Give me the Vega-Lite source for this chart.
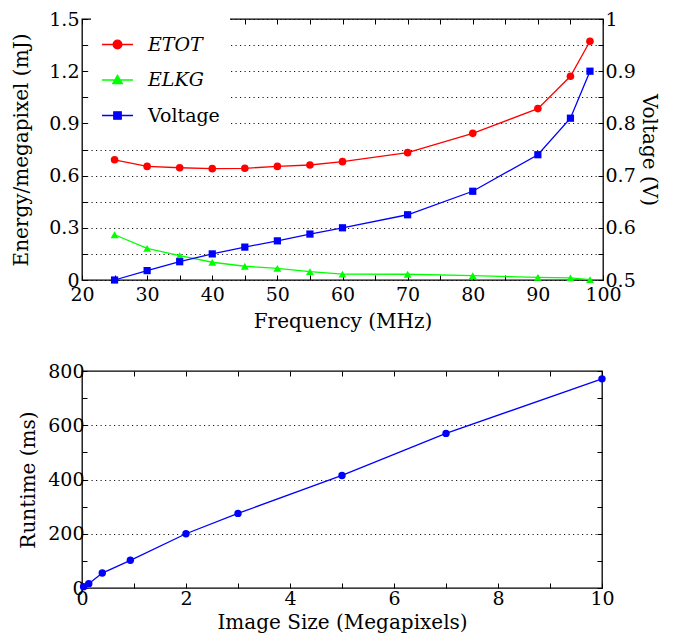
{
  "$schema": "https://vega.github.io/schema/vega-lite/v6.json",
  "padding": {"left": 11, "top": 9, "right": 0, "bottom": 0},
  "background": "white",
  "spacing": 29,
  "config": {
    "view": {"stroke": "black", "strokeWidth": 1.3},
    "axis": {
      "labelFont": "DejaVu Serif",
      "titleFont": "DejaVu Serif",
      "labelFontSize": 19,
      "titleFontSize": 20,
      "titleFontWeight": "normal",
      "labelColor": "black",
      "titleColor": "black",
      "domain": false,
      "ticks": true,
      "tickColor": "black",
      "tickSize": -5,
      "tickWidth": 1,
      "grid": false,
      "gridColor": "#000000",
      "gridDash": [1.2, 3.3],
      "gridWidth": 0.9,
      "labelFlush": false,
      "labelOverlap": false
    }
  },
  "datasets": {
    "freq": [
      {"f": 25, "series": "E_TOT", "v": 0.691},
      {"f": 30, "series": "E_TOT", "v": 0.653},
      {"f": 35, "series": "E_TOT", "v": 0.645},
      {"f": 40, "series": "E_TOT", "v": 0.640},
      {"f": 45, "series": "E_TOT", "v": 0.642},
      {"f": 50, "series": "E_TOT", "v": 0.653},
      {"f": 55, "series": "E_TOT", "v": 0.661},
      {"f": 60, "series": "E_TOT", "v": 0.680},
      {"f": 70, "series": "E_TOT", "v": 0.732},
      {"f": 80, "series": "E_TOT", "v": 0.843},
      {"f": 90, "series": "E_TOT", "v": 0.985},
      {"f": 95, "series": "E_TOT", "v": 1.171},
      {"f": 98, "series": "E_TOT", "v": 1.372},
      {"f": 25, "series": "E_LKG", "v": 0.260},
      {"f": 30, "series": "E_LKG", "v": 0.182},
      {"f": 35, "series": "E_LKG", "v": 0.140},
      {"f": 40, "series": "E_LKG", "v": 0.102},
      {"f": 45, "series": "E_LKG", "v": 0.079},
      {"f": 50, "series": "E_LKG", "v": 0.067},
      {"f": 55, "series": "E_LKG", "v": 0.048},
      {"f": 60, "series": "E_LKG", "v": 0.034},
      {"f": 70, "series": "E_LKG", "v": 0.033},
      {"f": 80, "series": "E_LKG", "v": 0.025},
      {"f": 90, "series": "E_LKG", "v": 0.015},
      {"f": 95, "series": "E_LKG", "v": 0.012},
      {"f": 98, "series": "E_LKG", "v": 0.002},
      {"f": 25, "series": "Voltage", "v": 0.500},
      {"f": 30, "series": "Voltage", "v": 0.518},
      {"f": 35, "series": "Voltage", "v": 0.535},
      {"f": 40, "series": "Voltage", "v": 0.550},
      {"f": 45, "series": "Voltage", "v": 0.563},
      {"f": 50, "series": "Voltage", "v": 0.575},
      {"f": 55, "series": "Voltage", "v": 0.588},
      {"f": 60, "series": "Voltage", "v": 0.600},
      {"f": 70, "series": "Voltage", "v": 0.625},
      {"f": 80, "series": "Voltage", "v": 0.670},
      {"f": 90, "series": "Voltage", "v": 0.740},
      {"f": 95, "series": "Voltage", "v": 0.810},
      {"f": 98, "series": "Voltage", "v": 0.900}
    ],
    "runtime": [
      {"mp": 0.03, "ms": 5},
      {"mp": 0.13, "ms": 16},
      {"mp": 0.39, "ms": 55},
      {"mp": 0.93, "ms": 102},
      {"mp": 2.0, "ms": 200},
      {"mp": 3.0, "ms": 275},
      {"mp": 5.0, "ms": 415},
      {"mp": 7.0, "ms": 570},
      {"mp": 10.0, "ms": 771}
    ]
  },
  "vconcat": [
    {
      "width": 521,
      "height": 261,
      "data": {"name": "freq"},
      "layer": [
        {
          "encoding": {
            "x": {
              "field": "f", "type": "quantitative",
              "scale": {"domain": [20, 100], "nice": false, "zero": false},
              "axis": {
                "orient": "bottom",
                "title": "Frequency (MHz)",
                "values": [20, 25, 30, 35, 40, 45, 50, 55, 60, 65, 70, 75, 80, 85, 90, 95, 100],
                "labelExpr": "datum.value % 10 == 0 ? datum.label : ''",
                "labelPadding": 10,
                "titlePadding": 7
              }
            },
            "y": {
              "field": "v", "type": "quantitative",
              "scale": {"domain": [0, 1.5], "nice": false},
              "axis": {
                "orient": "left",
                "title": "Energy/megapixel (mJ)",
                "values": [0, 0.15, 0.3, 0.45, 0.6, 0.75, 0.9, 1.05, 1.2, 1.35, 1.5],
                "labelExpr": "abs(datum.value / 0.3 - round(datum.value / 0.3)) < 0.001 ? (datum.value == 0 ? '0' : format(datum.value, '.1f')) : ''",
                "grid": true,
                "labelPadding": 8,
                "titlePadding": 17
              }
            },
            "color": {
              "field": "series", "type": "nominal",
              "scale": {"domain": ["E_TOT", "E_LKG", "Voltage"], "range": ["#ff0000", "#00ff00", "#0000ff"]},
              "legend": {
                "title": null,
                "orient": "none",
                "legendX": 9,
                "legendY": -1,
                "padding": 10,
                "fillColor": "white",
                "labelFont": "DejaVu Serif",
                "labelFontSize": 19,
                "labelColor": "black",
                "labelOffset": 14,
                "rowPadding": 8.5,
                "symbolSize": 961,
                "labelExpr": "datum.label == 'E_TOT' ? 'ETOT' : datum.label == 'E_LKG' ? 'ELKG' : datum.label",
                "encode": {
                  "symbols": {
                    "update": {
                      "shape": {"signal": "datum.value == 'E_TOT' ? 'M-1,0H1M0.28,0A0.28,0.28,0,1,1,-0.28,0A0.28,0.28,0,1,1,0.28,0Z' : datum.value == 'E_LKG' ? 'M-1,0H1M0,-0.3L0.31,0.24L-0.31,0.24Z' : 'M-1,0H1M-0.24,-0.24H0.24V0.24H-0.24Z'"},
                      "fill": {"signal": "datum.value == 'E_TOT' ? '#ff0000' : datum.value == 'E_LKG' ? '#00ff00' : '#0000ff'"},
                      "stroke": {"signal": "datum.value == 'E_TOT' ? '#ff0000' : datum.value == 'E_LKG' ? '#00ff00' : '#0000ff'"},
                      "strokeWidth": {"value": 1.3},
                      "size": {"value": 961},
                      "opacity": {"value": 1},
                      "fillOpacity": {"value": 1},
                      "strokeOpacity": {"value": 1}
                    }
                  },
                  "labels": {
                    "update": {
                      "fontStyle": {"signal": "datum.value == 'Voltage' ? 'normal' : 'italic'"}
                    }
                  }
                }
              }
            }
          },
          "layer": [
            {
              "transform": [{"filter": "datum.series == 'E_TOT'"}],
              "mark": {"type": "line", "strokeWidth": 1.3, "point": {"filled": true, "shape": "circle", "size": 58, "opacity": 1}}
            },
            {
              "transform": [{"filter": "datum.series == 'E_LKG'"}],
              "mark": {"type": "line", "strokeWidth": 1.3, "point": {"filled": true, "shape": "triangle-up", "size": 62, "opacity": 1}}
            }
          ]
        },
        {
          "transform": [{"filter": "datum.series == 'Voltage'"}],
          "mark": {"type": "line", "strokeWidth": 1.3, "point": {"filled": true, "shape": "square", "size": 52, "opacity": 1}},
          "encoding": {
            "x": {
              "field": "f", "type": "quantitative",
              "scale": {"domain": [20, 100], "nice": false, "zero": false},
              "axis": {
                "orient": "top",
                "title": null,
                "labels": false,
                "values": [20, 25, 30, 35, 40, 45, 50, 55, 60, 65, 70, 75, 80, 85, 90, 95, 100]
              }
            },
            "y": {
              "field": "v", "type": "quantitative",
              "scale": {"domain": [0.5, 1.0], "nice": false, "zero": false},
              "axis": {
                "orient": "right",
                "title": "Voltage (V)",
                "values": [0.5, 0.55, 0.6, 0.65, 0.7, 0.75, 0.8, 0.85, 0.9, 0.95, 1.0],
                "labelExpr": "abs(datum.value * 10 - round(datum.value * 10)) < 0.001 ? (datum.value == 1 ? '1' : format(datum.value, '.1f')) : ''",
                "labelPadding": 7,
                "titlePadding": 3
              }
            },
            "color": {"field": "series", "type": "nominal"}
          }
        }
      ],
      "resolve": {"scale": {"y": "independent"}, "axis": {"x": "independent", "y": "independent"}}
    },
    {
      "width": 520,
      "height": 217,
      "data": {"name": "runtime"},
      "layer": [
        {
          "mark": {"type": "line", "color": "#0000ff", "strokeWidth": 1.3, "point": {"filled": true, "size": 55, "color": "#0000ff", "opacity": 1}},
          "encoding": {
            "x": {
              "field": "mp", "type": "quantitative",
              "scale": {"domain": [0, 10], "nice": false},
              "axis": {
                "orient": "bottom",
                "title": "Image Size (Megapixels)",
                "values": [0, 1, 2, 3, 4, 5, 6, 7, 8, 9, 10],
                "labelExpr": "datum.value % 2 == 0 ? datum.label : ''",
                "labelPadding": 6,
                "titlePadding": 4
              }
            },
            "y": {
              "field": "ms", "type": "quantitative",
              "scale": {"domain": [0, 800], "nice": false},
              "axis": {
                "orient": "left",
                "title": "Runtime (ms)",
                "values": [0, 100, 200, 300, 400, 500, 600, 700, 800],
                "labelExpr": "datum.value % 200 == 0 ? datum.label : ''",
                "grid": true,
                "gridOpacity": {"condition": {"test": "datum.value == 200 || datum.value == 400 || datum.value == 600", "value": 1}, "value": 0},
                "labelPadding": 3,
                "titlePadding": 9
              }
            }
          }
        },
        {
          "mark": {"type": "line", "strokeOpacity": 0},
          "encoding": {
            "x": {
              "field": "mp", "type": "quantitative",
              "scale": {"domain": [0, 10], "nice": false},
              "axis": {"orient": "top", "title": null, "labels": false, "values": [0, 1, 2, 3, 4, 5, 6, 7, 8, 9, 10]}
            },
            "y": {
              "field": "ms", "type": "quantitative",
              "scale": {"domain": [0, 800], "nice": false},
              "axis": {"orient": "right", "title": null, "labels": false, "values": [0, 100, 200, 300, 400, 500, 600, 700, 800]}
            }
          }
        }
      ],
      "resolve": {"axis": {"x": "independent", "y": "independent"}}
    }
  ]
}
